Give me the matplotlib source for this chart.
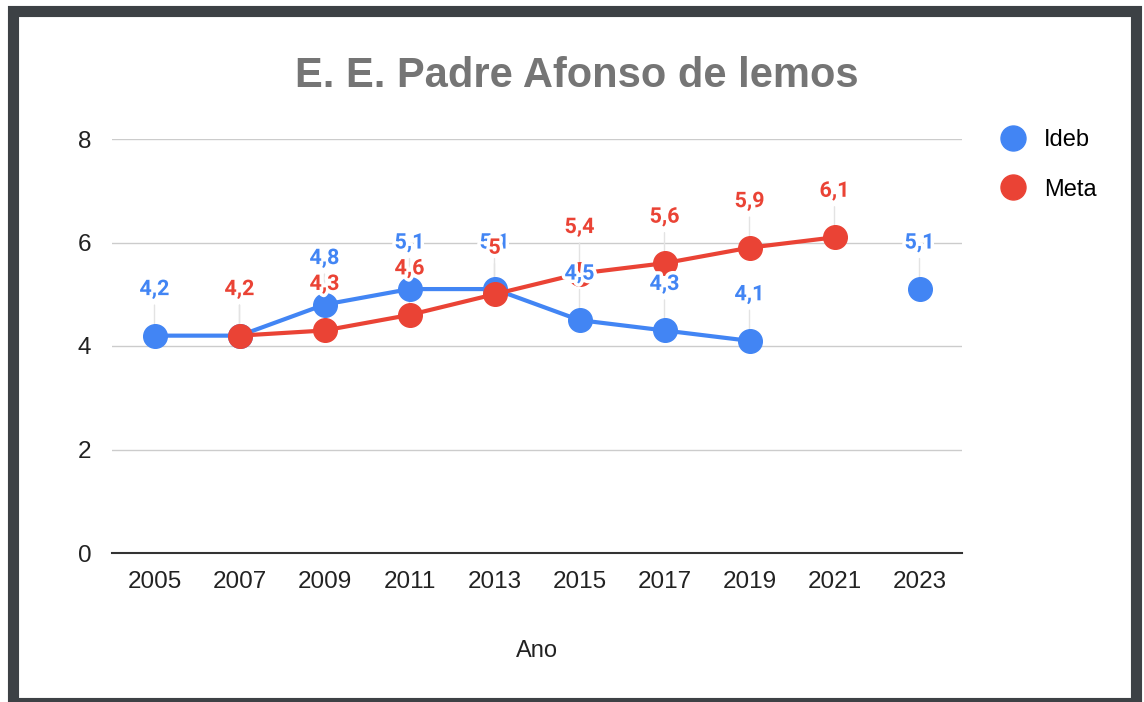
import numpy as np
import matplotlib
matplotlib.use("Agg")
import matplotlib.pyplot as plt
import matplotlib.patheffects as pe
from matplotlib.lines import Line2D
from matplotlib.patches import Rectangle

# Dados do gráfico
anos = ["2005", "2007", "2009", "2011", "2013", "2015", "2017", "2019", "2021", "2023"]
ideb = [4.2, 4.2, 4.8, 5.1, 5.1, 4.5, 4.3, 4.1, np.nan, 5.1]
meta = [np.nan, 4.2, 4.3, 4.6, 5.0, 5.4, 5.6, 5.9, 6.1, np.nan]

AZUL = "#4285F4"
VERMELHO = "#EA4335"

plt.rcParams['font.family'] = ['Liberation Sans', 'DejaVu Sans']

W, H = 1144, 702
fig = plt.figure(figsize=(W / 100, H / 100), dpi=100)
fig.patch.set_facecolor("white")

# moldura escura em volta
fig.add_artist(Rectangle((13 / W, 1 - 703 / H), (1136 - 13) / W, (703 - 11) / H,
                         transform=fig.transFigure, fill=False,
                         edgecolor="#3d4145", linewidth=8, zorder=0))

ax = fig.add_axes([112 / W, (H - 553) / H, (962 - 112) / W, (553 - 139) / H])
x = np.arange(len(anos))

ax.plot(x, ideb, color=AZUL, lw=3, marker='o', markersize=17, zorder=3, label="Ideb")
ax.plot(x, meta, color=VERMELHO, lw=3, marker='o', markersize=17, zorder=4, label="Meta")

halo = [pe.withStroke(linewidth=5, foreground="white")]

def rotulos(valores, cor):
    for xi, v in zip(x, valores):
        if np.isnan(v):
            continue
        # linha guia
        ax.annotate("", xy=(xi, v), xytext=(0, 22), textcoords="offset points",
                    arrowprops=dict(arrowstyle='-', color="#e3e3e3", lw=1,
                                    shrinkA=0, shrinkB=0), zorder=1)
        txt = ("%g" % v).replace(".", ",")
        ax.annotate(txt, xy=(xi, v), xytext=(0, 33.5), textcoords="offset points",
                    ha="center", va="center", color=cor, fontsize=15.5,
                    fontweight="bold", family=["Roboto", "DejaVu Sans"],
                    path_effects=halo, zorder=6)

rotulos(ideb, AZUL)
rotulos(meta, VERMELHO)

ax.set_xlim(-0.5, len(anos) - 0.5)
ax.set_ylim(0, 8)
ax.set_yticks([0, 2, 4, 6, 8])
ax.set_xticks(x)
ax.set_xticklabels(anos)
ax.tick_params(axis='both', length=0, labelsize=17.5, colors="#222222")
ax.tick_params(axis='x', pad=13)
ax.tick_params(axis='y', pad=15)
ax.grid(axis='y', color="#cccccc", lw=1)
ax.set_axisbelow(True)
for s in ["top", "right", "left"]:
    ax.spines[s].set_visible(False)
ax.spines["bottom"].set_color("#333333")
ax.spines["bottom"].set_linewidth(1.5)
ax.spines["bottom"].set_zorder(2)

ax.set_xlabel("Ano", fontsize=17, color="#222222", labelpad=34)

fig.text(577 / W, 1 - 76 / H, "E. E. Padre Afonso de lemos", ha="center", va="center",
         fontsize=30, fontweight="bold", color="#757575")

# legenda
handles = [Line2D([], [], ls='none', marker='o', markersize=18, color=AZUL),
           Line2D([], [], ls='none', marker='o', markersize=18, color=VERMELHO)]
fig.legend(handles, ["Ideb", "Meta"], loc="upper left",
           bbox_to_anchor=(986 / W, 1 - 120 / H), frameon=False,
           fontsize=17, handletextpad=0.55, labelspacing=1.15,
           handlelength=1.5, borderaxespad=0)

fig.savefig("out.png", dpi=100)
